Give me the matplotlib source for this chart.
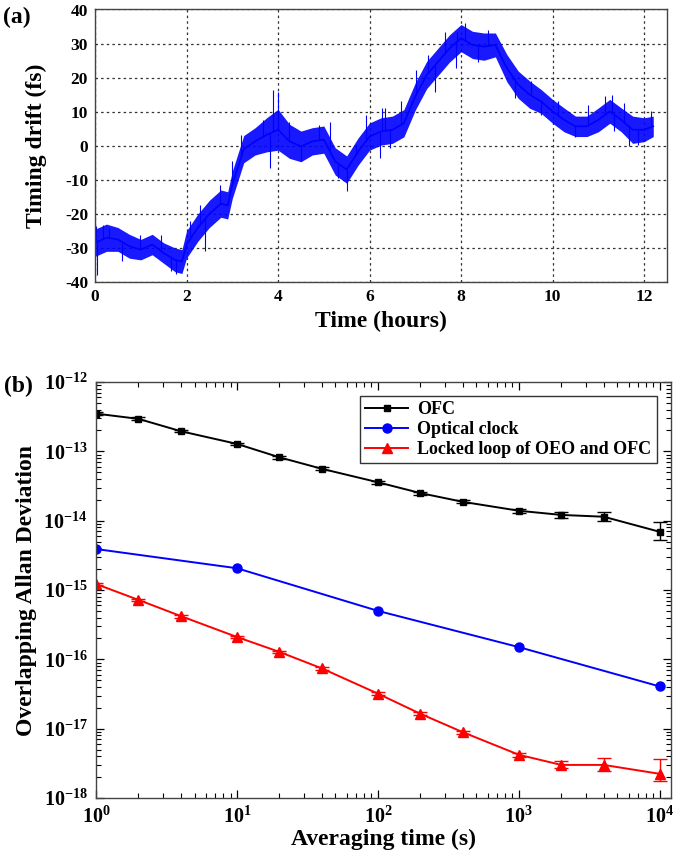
import matplotlib
matplotlib.use("Agg")
import matplotlib.pyplot as plt
import numpy as np
from matplotlib.ticker import LogLocator, NullFormatter, MultipleLocator
from matplotlib.lines import Line2D

plt.rcParams['font.family'] = ['Liberation Serif', 'DejaVu Serif']
plt.rcParams['font.weight'] = 'bold'
plt.rcParams['axes.unicode_minus'] = False
plt.rcParams['mathtext.fontset'] = 'custom'
plt.rcParams['mathtext.rm'] = 'Liberation Serif:bold'
plt.rcParams['mathtext.bf'] = 'Liberation Serif:bold'
plt.rcParams['mathtext.it'] = 'Liberation Serif:bold'
plt.rcParams['mathtext.default'] = 'bf'

# ---------------- Panel (a) data: timing drift ----------------
drift_t = [0.0, 0.25, 0.5, 0.75, 1.0, 1.25, 1.5, 1.75, 1.9, 2.0, 2.25, 2.5, 2.75, 2.9,
           3.0, 3.25, 3.5, 3.75, 4.0, 4.25, 4.5, 4.75, 5.0, 5.25, 5.5, 5.75, 6.0, 6.25,
           6.5, 6.75, 7.0, 7.25, 7.5, 7.75, 8.0, 8.25, 8.5, 8.75, 9.0, 9.25, 9.5, 9.75,
           10.0, 10.25, 10.5, 10.75, 11.0, 11.25, 11.5, 11.75, 12.0, 12.2]
drift_mid = [-28.5, -27, -27.5, -29.5, -30.5, -29, -31.5, -33.5, -34, -29, -24, -20, -17, -17.5,
             -11.5, -1, 1.3, 3.2, 4.7, 1.3, -0.2, 1.3, 1.8, -4.6, -7, -1.7, 2.7, 4.2,
             4.7, 6.6, 14.5, 20.8, 24.7, 28.6, 31.6, 29.6, 29.1, 29.6, 22.8, 17.9, 15, 13,
             10.1, 7.6, 5.7, 5.7, 7.6, 10.1, 7.6, 4.7, 4.7, 5.7]
drift_hw = [4, 4, 3.5, 3.5, 3, 3, 3, 3.5, 3.5, 4, 4, 4, 4, 4,
            4, 4, 4, 5, 6, 5, 4.5, 4, 4, 4, 4, 4, 4, 4,
            4, 4, 4, 4, 4, 4, 4, 4, 4, 3.5, 4, 4, 4, 3.5,
            3.5, 3.5, 3, 3, 3.5, 3.5, 3.5, 4, 3.5, 3]
spike_t = [0.03, 0.05, 0.18, 0.3, 0.58, 0.98, 1.45, 1.67, 1.78, 2.07, 2.29, 2.4, 2.73, 3.0,
           3.2, 3.67, 3.82, 3.88, 3.99, 4.25, 4.51, 4.9, 5.13, 5.31, 5.5, 5.7, 5.93, 6.22,
           6.28, 6.33, 6.44, 6.69, 7.02, 7.28, 7.42, 7.65, 7.89, 7.9, 8.09, 8.37, 8.59, 8.88,
           9.17, 9.53, 9.75, 10.11, 10.48, 10.77, 11.14, 11.3, 11.35, 11.57, 11.68, 11.86, 12.15]
spike_v = [-23.7, -38, -23.2, -24, -33.9, -26.1, -26.1, -36.9, -37.6, -22.2, -17.3, -31, -11.4, -4.6,
           3.2, 7.6, -6.5, 16.4, 15.7, 7.1, -4.6, 6.2, 7.1, -9.5, -13.4, 0.3, 9.1, -3.6,
           11.0, 11, -0.7, 13, 22.3, 26.7, 15.9, 33.5, 22.8, 33.5, 36, 24.7, 34, 25.7,
           14, 18.9, 9.1, 13, 2.7, 12, 14.5, 15, 4.2, 12.5, -0.2, 0.3, 10.1]

# ---------------- Panel (b) data: Allan deviation ----------------
tau = [1, 2, 4, 10, 20, 40, 100, 200, 400, 1000, 2000, 4000, 10000]
ofc = [3.5e-13, 2.94e-13, 1.95e-13, 1.28e-13, 8.2e-14, 5.6e-14, 3.58e-14, 2.5e-14,
       1.87e-14, 1.39e-14, 1.21e-14, 1.14e-14, 6.9e-15]
ofc_lo = [3.3e-13, 2.8e-13, 1.87e-13, 1.22e-13, 7.8e-14, 5.3e-14, 3.4e-14, 2.37e-14,
          1.77e-14, 1.29e-14, 1.09e-14, 9.96e-15, 5.3e-15]
ofc_hi = [3.7e-13, 3.08e-13, 2.03e-13, 1.34e-13, 8.6e-14, 5.9e-14, 3.76e-14, 2.63e-14,
          1.97e-14, 1.49e-14, 1.34e-14, 1.33e-14, 9.5e-15]
tau_clock = [1, 10, 100, 1000, 10000]
clock = [3.9e-15, 2.06e-15, 5.0e-16, 1.5e-16, 4.06e-17]
loop = [1.22e-15, 7.2e-16, 4.2e-16, 2.1e-16, 1.28e-16, 7.4e-17, 3.2e-17, 1.64e-17,
        8.9e-18, 4.2e-18, 3.0e-18, 3.0e-18, 2.23e-18]
loop_lo = [1.17e-15, 6.9e-16, 4.0e-16, 2.0e-16, 1.22e-16, 7.0e-17, 3.05e-17, 1.56e-17,
           8.4e-18, 3.9e-18, 2.75e-18, 2.46e-18, 1.74e-18]
loop_hi = [1.27e-15, 7.5e-16, 4.4e-16, 2.2e-16, 1.34e-16, 7.8e-17, 3.35e-17, 1.72e-17,
           9.4e-18, 4.5e-18, 3.43e-18, 3.74e-18, 3.62e-18]
legend_labels = ['OFC', 'Optical clock', 'Locked loop of OEO and OFC']

W, H = 685, 859
fig = plt.figure(figsize=(W / 100, H / 100), dpi=100)

def box(l, t, r, b):
    return [l / W, 1 - b / H, (r - l) / W, (b - t) / H]

BLUE = '#0000FF'
RED = '#FF0000'

# ---------------- Panel (a) ----------------
ax1 = fig.add_axes(box(95, 9.5, 667, 282))
t = np.array(drift_t)
m = np.array(drift_mid)
hw = np.array(drift_hw)
ax1.fill_between(t, m - hw, m + hw, color=BLUE, lw=0, alpha=0.9)
ax1.plot(t, m, color=BLUE, lw=1.2)
ax1.vlines(spike_t, np.interp(spike_t, t, m), spike_v, color=BLUE, lw=0.8)
ax1.set_xlim(0, 12.5)
ax1.set_ylim(-40, 40)
ax1.xaxis.set_major_locator(MultipleLocator(2))
ax1.yaxis.set_major_locator(MultipleLocator(10))
ax1.grid(True, color='#333333', linestyle=(0, (2, 2.5)), lw=0.9)
ax1.set_axisbelow(True)
ax1.tick_params(direction='in', length=0, labelsize=12.5, pad=5)
for lab in ax1.get_xticklabels() + ax1.get_yticklabels():
    lab.set_fontweight('bold')
ax1.set_xlabel('Time (hours)', fontsize=17, fontweight='bold')
ax1.set_ylabel('Timing drift (fs)', fontsize=17, fontweight='bold')
ax1.xaxis.set_label_coords(0.5, -0.105)
ax1.yaxis.set_label_coords(-0.084, 0.5)
for s in ax1.spines.values():
    s.set_color('#444444')
    s.set_linewidth(1.0)
fig.text(3 / W, 1 - 17 / H, '(a)', fontsize=17, fontweight='bold', va='center', ha='left')

# ---------------- Panel (b) ----------------
ax2 = fig.add_axes(box(96, 382, 671, 798))
ofc_a = np.array(ofc)
loop_a = np.array(loop)
ax2.errorbar(tau, ofc, yerr=[ofc_a - np.array(ofc_lo), np.array(ofc_hi) - ofc_a],
             color='black', marker='s', ms=5, lw=1.4, elinewidth=1.0, capsize=5,
             capthick=1.0)
ax2.plot(tau_clock, clock, color=BLUE, marker='o', ms=6.5, lw=1.4)
ax2.errorbar(tau, loop, yerr=[loop_a - np.array(loop_lo), np.array(loop_hi) - loop_a],
             color=RED, marker='^', ms=7.5, lw=1.4, elinewidth=1.0, capsize=5,
             capthick=1.0)
ax2.set_xscale('log')
ax2.set_yscale('log')
ax2.set_xlim(1, 1.2e4)
ax2.set_ylim(1e-18, 1e-12)
ax2.xaxis.set_major_locator(LogLocator(base=10, numticks=10))
ax2.yaxis.set_major_locator(LogLocator(base=10, numticks=10))
ax2.xaxis.set_minor_locator(LogLocator(base=10, subs=np.arange(2, 10), numticks=20))
ax2.yaxis.set_minor_locator(LogLocator(base=10, subs=np.arange(2, 10), numticks=20))
ax2.xaxis.set_minor_formatter(NullFormatter())
ax2.yaxis.set_minor_formatter(NullFormatter())
ax2.tick_params(which='both', direction='in', top=True, right=True, labelsize=14.5)
ax2.tick_params(which='major', length=6, width=0.9)
ax2.tick_params(which='minor', length=3.5, width=0.8)
ax2.tick_params(axis='x', pad=6)
ax2.tick_params(axis='y', pad=6)
ax2.set_xlabel('Averaging time (s)', fontsize=17, fontweight='bold')
ax2.set_ylabel('Overlapping Allan Deviation', fontsize=17, fontweight='bold')
ax2.xaxis.set_label_coords(0.5, -0.075)
ax2.yaxis.set_label_coords(-0.103, 0.5)
for s in ax2.spines.values():
    s.set_color('#444444')
    s.set_linewidth(1.0)
handles = [Line2D([], [], color='black', marker='s', ms=5, lw=1.4),
           Line2D([], [], color=BLUE, marker='o', ms=6.5, lw=1.4),
           Line2D([], [], color=RED, marker='^', ms=7.5, lw=1.4)]
leg = ax2.legend(handles, legend_labels, loc='upper right',
                 bbox_to_anchor=((657 - 96) / 575, (798 - 396) / 416),
                 borderaxespad=0, fancybox=False, framealpha=1, edgecolor='#333333',
                 prop={'family': 'Liberation Serif', 'weight': 'bold', 'size': 13},
                 handlelength=2.4, handletextpad=0.5, labelspacing=0.15, borderpad=0.3)
leg.get_frame().set_linewidth(1.0)
fig.text(4 / W, 1 - 386 / H, '(b)', fontsize=17, fontweight='bold', va='center', ha='left')

fig.savefig('out.png', dpi=100)
